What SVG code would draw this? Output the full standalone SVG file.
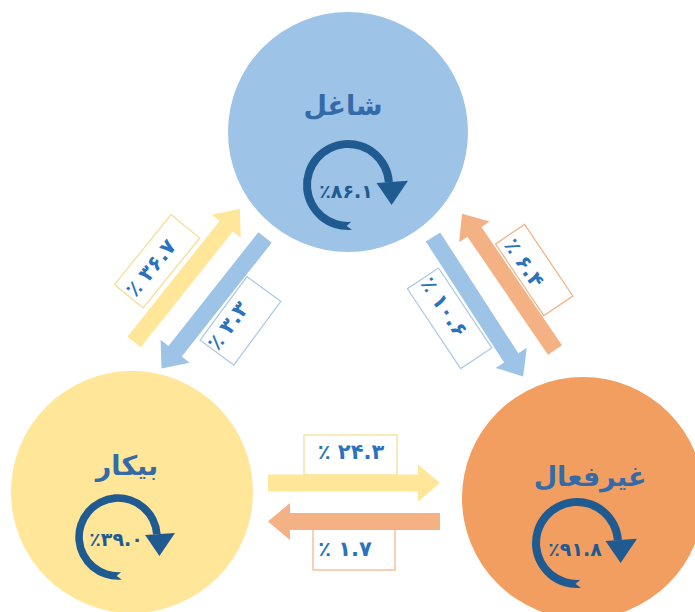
<svg xmlns="http://www.w3.org/2000/svg" width="695" height="612" viewBox="0 0 695 612">
<defs>
<style>
.title{font-family:"DejaVu Sans",sans-serif;font-weight:bold;font-size:27px;fill:#356AA8;text-anchor:middle;}
.pct{font-family:"DejaVu Sans",sans-serif;font-weight:bold;font-size:19px;fill:#1F5A91;text-anchor:middle;dominant-baseline:central;}
.lbl{font-family:"DejaVu Sans",sans-serif;font-weight:bold;font-size:21px;fill:#2A73BC;text-anchor:middle;dominant-baseline:central;}
.box{fill:#ffffff;stroke-width:1.2;}
.by{stroke:#F5DC8E;}
.bb{stroke:#A9C8E8;}
.bo{stroke:#F4B183;}
.ay{fill:#FFE699;}
.ab{fill:#9DC3E6;}
.ao{fill:#F4B183;}
</style>
<g id="cycle" fill="#1F5A91">
<path d="M3.92,44.83 A45,45 0 1 1 44.89,-3.14 L36.91,-2.58 A37,37 0 1 0 3.23,36.86 L-1.43,40.98 Z"/>
<polygon points="60,-4.2 28.5,-2 43.6,20"/>
</g>
</defs>
<rect width="695" height="612" fill="#ffffff"/>

<g id="node-employed">
<circle cx="348" cy="132" r="120" fill="#9DC3E6"/>
<text class="title" x="343" y="115">شاغل</text>
<use href="#cycle" transform="translate(348,185)"/>
<text class="pct" x="346" y="191">٪۸۶.۱</text>
</g>
<g id="node-unemployed">
<circle cx="132" cy="492" r="121" fill="#FFE699"/>
<text class="title" x="127" y="475">بیکار</text>
<use href="#cycle" transform="translate(118,537) scale(0.95)"/>
<text class="pct" x="116" y="539">٪۳۹.۰</text>
</g>
<g id="node-inactive">
<circle cx="583" cy="498" r="121" fill="#F19E60"/>
<text class="title" x="590" y="486">غیرفعال</text>
<use href="#cycle" transform="translate(577,543)"/>
<text class="pct" x="575" y="549">٪۹۱.۸</text>
</g>

<g id="edge-labels">
<rect class="box by" transform="translate(157.1,261.3) rotate(-51)" x="-45" y="-18.5" width="90" height="37"/>
<rect class="box bb" transform="translate(240.4,320.8) rotate(-53.6)" x="-39.5" y="-21" width="79" height="42"/>
<rect class="box bo" transform="translate(534.2,270) rotate(56)" x="-43.2" y="-17.5" width="86.4" height="35"/>
<rect class="box bb" transform="translate(449.6,318.3) rotate(56.3)" x="-48" y="-18.7" width="96" height="37.4"/>
<rect class="box by" x="304" y="435" width="93" height="40"/>
<rect class="box bo" x="313" y="525" width="82" height="45"/>
<text class="lbl" transform="translate(151,268) rotate(-51)">٪ ۳۶.۷</text>
<text class="lbl" transform="translate(228,326) rotate(-53.6)">٪ ۳.۳</text>
<text class="lbl" transform="translate(524,263) rotate(56)">٪ ۶.۴</text>
<text class="lbl" transform="translate(444,307) rotate(56.3)">٪ ۱۰.۶</text>
<text class="lbl" x="351" y="452">٪ ۲۴.۳</text>
<text class="lbl" x="345" y="549">٪ ۱.۷</text>
</g>

<g id="connectors">
<polygon class="ay" transform="translate(134,342) rotate(-51.45)" points="0,-8.5 148,-8.5 148,-18.5 170,0 148,18.5 148,8.5 0,8.5"/>
<polygon class="ab" transform="translate(265,237.5) rotate(128.3)" points="0,-8.5 145,-8.5 145,-18.5 167,0 145,18.5 145,8.5 0,8.5"/>
<polygon class="ab" transform="translate(433,237) rotate(57.1)" points="0,-8.5 144,-8.5 144,-18.5 166,0 144,18.5 144,8.5 0,8.5"/>
<polygon class="ao" transform="translate(555,350) rotate(-124.3)" points="0,-8.5 143,-8.5 143,-18.5 165,0 143,18.5 143,8.5 0,8.5"/>
<polygon class="ay" transform="translate(268,483)" points="0,-8.5 150,-8.5 150,-18.5 172,0 150,18.5 150,8.5 0,8.5"/>
<polygon class="ao" transform="translate(440,521.5) rotate(180)" points="0,-8.5 150,-8.5 150,-18.5 172,0 150,18.5 150,8.5 0,8.5"/>
</g>
</svg>
